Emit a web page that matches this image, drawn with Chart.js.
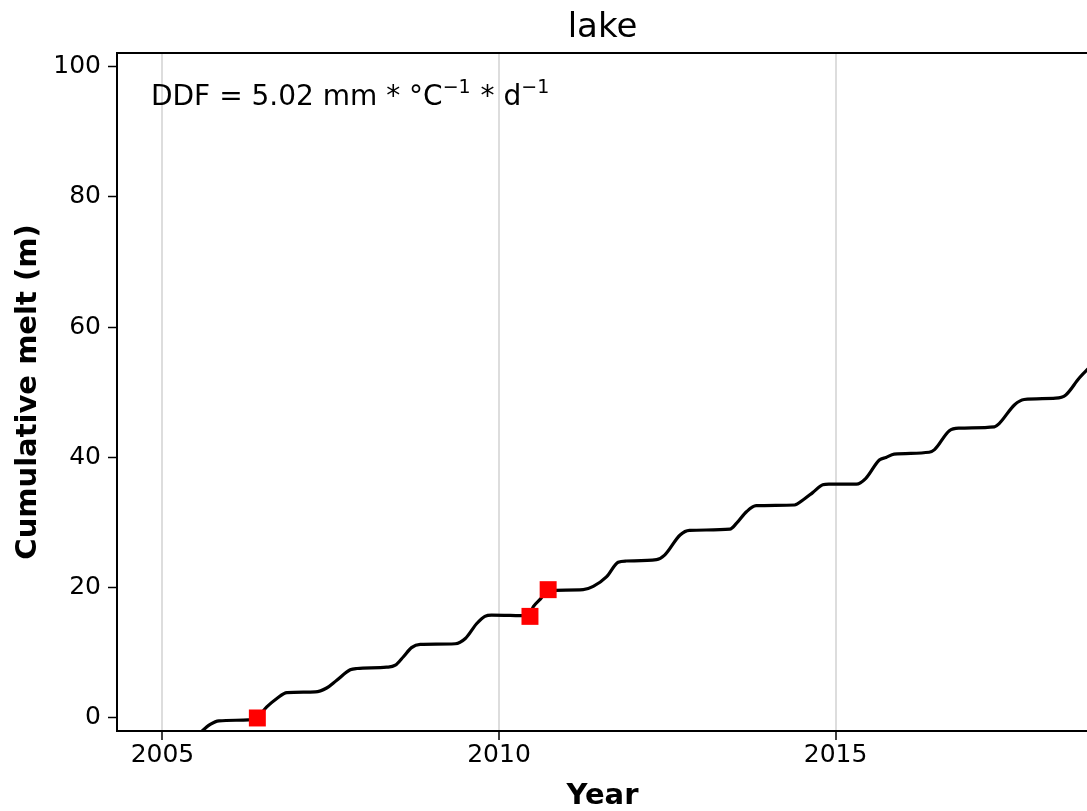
<!DOCTYPE html>
<html>
<head>
<meta charset="utf-8">
<title>lake</title>
<script src="https://cdn.jsdelivr.net/npm/chart.js@4.4.0/dist/chart.umd.min.js"></script>
<style>
  html, body { margin: 0; padding: 0; background: #fff; overflow: hidden; }
  #wrap { width: 1100px; height: 811px; }
</style>
</head>
<body>
<div id="wrap"><canvas id="melt-chart" width="1100" height="811"></canvas></div>
<script>
// cumulative melt curve
const years = [
  2005.40, 2005.59, 2005.71, 2005.84, 2006.28, 2006.40, 2006.55, 2006.70, 2006.85,
  2007.27, 2007.44, 2007.59, 2007.79, 2007.89, 2008.33, 2008.46, 2008.58, 2008.70,
  2008.83, 2009.35, 2009.50, 2009.67, 2009.79, 2009.89, 2010.44, 2010.51, 2010.61,
  2010.71, 2010.80, 2011.25, 2011.40, 2011.60, 2011.77, 2011.89, 2012.34, 2012.46,
  2012.69, 2012.83, 2013.43, 2013.53, 2013.68, 2013.82, 2014.39, 2014.52, 2014.66,
  2014.81, 2014.90, 2015.31, 2015.45, 2015.65, 2015.75, 2015.87, 2016.39, 2016.47,
  2016.69, 2016.84, 2017.36, 2017.43, 2017.66, 2017.80, 2018.27, 2018.42, 2018.62,
  2018.72, 2018.85
];
const melt = [
  -4.0, -2.0, -1.0, -0.45, -0.3, 0.0, 1.7, 3.0, 3.9,
  4.0, 4.6, 5.8, 7.4, 7.6, 7.8, 8.1, 9.4, 10.8,
  11.3, 11.4, 12.2, 14.5, 15.6, 15.8, 15.7, 17.1, 18.2,
  19.4, 19.6, 19.7, 20.2, 21.7, 23.9, 24.1, 24.3, 25.0,
  28.1, 28.8, 29.0, 29.9, 31.7, 32.6, 32.7, 33.5, 34.6,
  35.8, 35.9, 35.9, 36.8, 39.6, 40.0, 40.5, 40.8, 41.2,
  44.1, 44.5, 44.7, 45.2, 48.1, 48.9, 49.1, 49.6, 52.2,
  53.3, 54.5
];

// observed points (red squares)
const obsYears = [2006.41, 2010.46, 2010.73];
const obsMelt = [0.0, 15.6, 19.7];

const xTicks = [2005, 2010, 2015];
const yTicks = [0, 20, 40, 60, 80, 100];
const xRange = [2004.325, 2018.75];
const yRange = [-2.0, 102.1];
const ddfValue = '5.02';
const chartTitle = 'lake';

const FONT = "'DejaVu Sans', sans-serif";

// title, top/right spines + DDF annotation
const framePlugin = {
  id: 'frame',
  afterDraw(chart) {
    const { ctx, chartArea } = chart;
    ctx.save();
    ctx.strokeStyle = '#000';
    ctx.lineWidth = 2;
    ctx.beginPath();
    ctx.moveTo(chartArea.left - 1, chartArea.top);
    ctx.lineTo(chartArea.right, chartArea.top);
    ctx.lineTo(chartArea.right, chartArea.bottom);
    ctx.stroke();

    ctx.fillStyle = '#000';
    ctx.textAlign = 'center';
    ctx.textBaseline = 'alphabetic';
    ctx.font = '34px ' + FONT;
    ctx.fillText(chartTitle, (chartArea.left + chartArea.right) / 2, 37);

    // DDF = 5.02 mm * °C^-1 * d^-1
    let x = chartArea.left + 34;
    const y = chartArea.top + 52;
    const parts = [
      ['DDF = ' + ddfValue + ' mm * °C', false],
      ['\u22121', true],
      [' * d', false],
      ['\u22121', true]
    ];
    ctx.textAlign = 'left';
    parts.forEach(([txt, sup]) => {
      ctx.font = (sup ? 19 : 28) + 'px ' + FONT;
      ctx.fillText(txt, x, sup ? y - 12 : y);
      x += ctx.measureText(txt).width + (sup ? 1 : 0);
    });
    ctx.restore();
  }
};

const ctx = document.getElementById('melt-chart');

new Chart(ctx, {
  type: 'line',
  data: {
    datasets: [
      {
        type: 'scatter',
        data: obsYears.map((x, i) => ({ x, y: obsMelt[i] })),
        pointStyle: 'rect',
        pointRadius: 12,
        pointHoverRadius: 12,
        backgroundColor: '#ff0000',
        borderColor: '#ff0000',
        borderWidth: 0
      },
      {
        data: years.map((x, i) => ({ x, y: melt[i] })),
        borderColor: '#000',
        borderWidth: 3.2,
        pointRadius: 0,
        cubicInterpolationMode: 'monotone',
        fill: false
      }
    ]
  },
  options: {
    responsive: false,
    animation: false,
    layout: { padding: { left: 0, right: 7, top: 53, bottom: 0 } },
    plugins: {
      legend: { display: false },
      tooltip: { enabled: false },
      title: { display: false }
    },
    scales: {
      x: {
        type: 'linear',
        min: xRange[0],
        max: xRange[1],
        afterBuildTicks: s => { s.ticks = xTicks.map(v => ({ value: v })); },
        afterFit: s => { s.height = 80; },
        grid: { color: '#dddddd', lineWidth: 2, tickColor: '#000', tickLength: 9, tickWidth: 1.5 },
        border: { display: true, color: '#000', width: 2 },
        ticks: {
          color: '#000',
          font: { family: FONT, size: 25 },
          padding: 0,
          maxRotation: 0,
          callback: v => String(v)
        },
        title: {
          display: true,
          text: 'Year',
          color: '#000',
          font: { family: FONT, size: 29, weight: 'bold', lineHeight: 1.0 },
          padding: { top: 0, bottom: 0 }
        }
      },
      y: {
        type: 'linear',
        min: yRange[0],
        max: yRange[1],
        afterBuildTicks: s => { s.ticks = yTicks.map(v => ({ value: v })); },
        afterFit: s => { s.width = 117; },
        grid: { drawOnChartArea: false, tickColor: '#000', tickLength: 9, tickWidth: 1.5 },
        border: { display: true, color: '#000', width: 2 },
        ticks: {
          color: '#000',
          font: { family: FONT, size: 25 },
          padding: 7,
          callback: v => String(v)
        },
        title: {
          display: true,
          text: 'Cumulative melt (m)',
          color: '#000',
          font: { family: FONT, size: 29, weight: 'bold' },
          padding: { top: 11, bottom: 0 }
        }
      }
    }
  },
  plugins: [framePlugin]
});
</script>
</body>
</html>
